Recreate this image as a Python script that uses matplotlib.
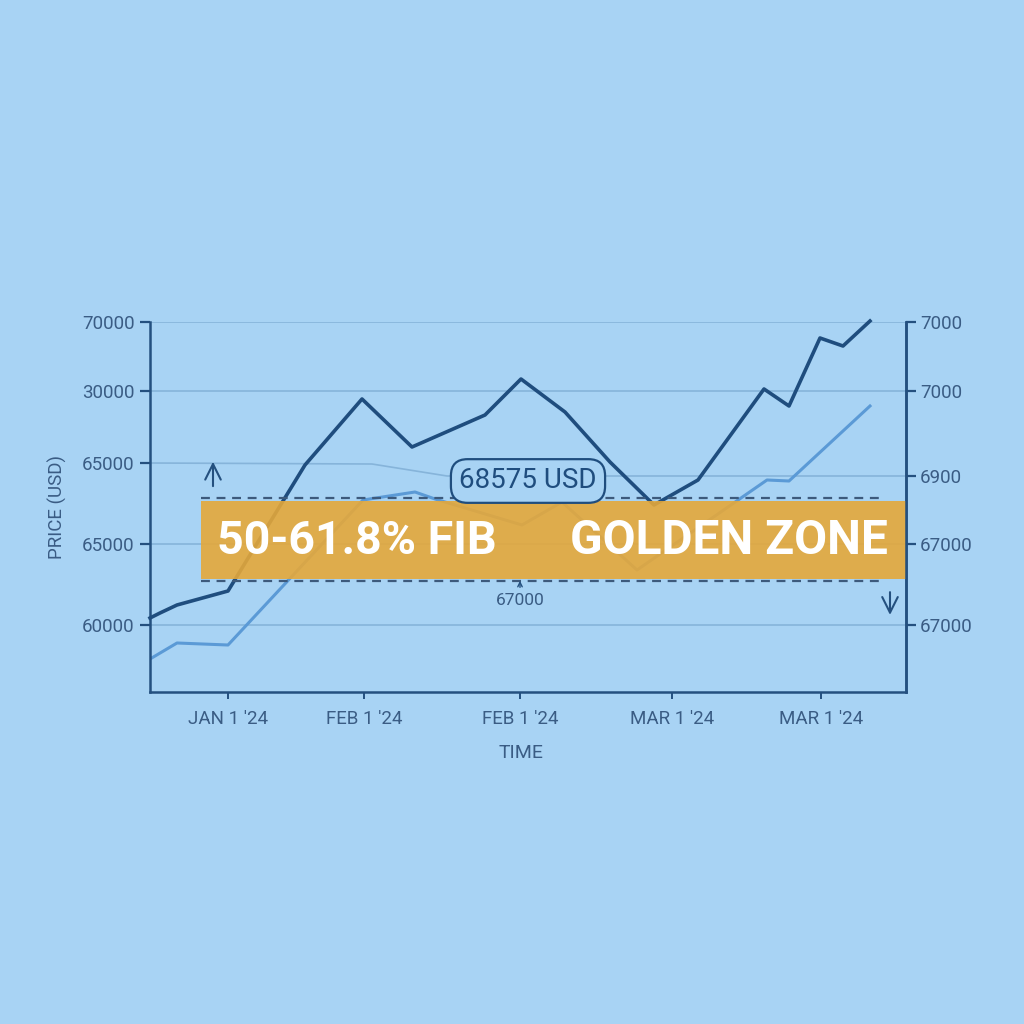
import matplotlib
matplotlib.use("Agg")
import matplotlib.pyplot as plt
from matplotlib.patches import Rectangle

plt.rcParams['font.family'] = ['Roboto', 'DejaVu Sans']

# days since mid-Dec '23, price in USD
dark_days = [0, 2, 5.4, 15.6, 31, 42.4, 52.4, 67, 74.2, 83, 92, 100.8, 109.6, 122.8, 127.8, 134, 138.6, 144]
dark_price = [60432, 60741, 61235, 62099, 69877, 73951, 70988, 72963, 75185, 73148, 70062,
              67407, 68951, 74568, 73519, 77716, 77222, 78765]

light_days = [0, 5.4, 15.6, 42.6, 53, 57, 74.4, 82.4, 97.4, 123.4, 127.8, 144]
light_price = [57901, 58889, 58765, 67716, 68210, 67778, 66173, 67593, 63395, 68951, 68889, 73519]

faint_days = [0, 44.4, 59.4, 151.2]
faint_price = [70000, 69938, 69198, 69198]

left_ticks = [78704, 74444, 70000, 65000, 60000]
left_labels = ['70000', '30000', '65000', '65000', '60000']
right_ticks = [78704, 74444, 69198, 65000, 60000]
right_labels = ['7000', '7000', '6900', '67000', '67000']
grid_levels = [78704, 74444, 65000, 60000]

x_ticks = [15.6, 42.8, 74, 104.4, 134.2]
x_labels = ["JAN 1 '24", "FEB 1 '24", "FEB 1 '24", "MAR 1 '24", "MAR 1 '24"]

zone_low, zone_high = 62840, 67654
zone_start, zone_end = 10.2, 151.2
fib_high, fib_low = 67840, 62716
price_tag = 68575

bg = '#a8d3f4'
dark = '#1f4d7e'
light = '#5b9ad6'
axis_col = '#24507f'
text_col = '#3a5c84'

fig = plt.figure(figsize=(10.24, 10.24), dpi=100, facecolor=bg)
ax = fig.add_axes([150/1024, 332/1024, 756/1024, 370/1024])
ax.set_facecolor(bg)
ax.set_xlim(0, 151.2)
ax.set_ylim(55864, 78704)

for g in grid_levels:
    ax.axhline(g, color='#86b4da', lw=1.2, zorder=1)
ax.plot(faint_days, faint_price, color='#86b4da', lw=1.2, zorder=1)

ax.plot(light_days, light_price, color=light, lw=2.2, zorder=2)
ax.plot(dark_days, dark_price, color=dark, lw=2.6, zorder=3, clip_on=False)

# golden zone band
ax.add_patch(Rectangle((zone_start, zone_low), zone_end - zone_start, zone_high - zone_low,
                       facecolor='#e5a83a', alpha=0.9, edgecolor='none', zorder=4, clip_on=False))
for lvl in (fib_high, fib_low):
    ax.plot([zone_start, 147], [lvl, lvl], color='#3d5a7c', lw=1.6, ls=(0, (4, 3)), zorder=5)

ax.text(13.4, 65185, '50-61.8% FIB', color='white', fontsize=33.5, fontweight='bold',
        ha='left', va='center', zorder=6)
ax.text(147.6, 65185, 'GOLDEN ZONE', color='white', fontsize=34.5, fontweight='bold',
        ha='right', va='center', zorder=6)

# arrows
ax.annotate('', xy=(12.6, 70250), xytext=(12.6, 68400),
            arrowprops=dict(arrowstyle='->', color=axis_col, lw=1.5, mutation_scale=28), zorder=6)
ax.annotate('', xy=(148, 60450), xytext=(148, 62200),
            arrowprops=dict(arrowstyle='->', color=axis_col, lw=1.5, mutation_scale=28), zorder=6,
            annotation_clip=False)
ax.annotate('', xy=(74, 62900), xytext=(74, 62150),
            arrowprops=dict(arrowstyle='->', color=axis_col, lw=1.0, mutation_scale=8), zorder=6)
ax.text(74, 61500, '67000', color=text_col, fontsize=12.5, ha='center', va='center', zorder=6)

ax.text(75.6, 68889, f'{price_tag} USD', color=dark, fontsize=20, ha='center', va='center', zorder=7,
        bbox=dict(boxstyle='round,pad=0.3,rounding_size=0.6', facecolor=bg, edgecolor=dark, lw=1.6))

# axes styling
ax.spines['top'].set_visible(False)
for s in ('left', 'right', 'bottom'):
    ax.spines[s].set_color(axis_col)
    ax.spines[s].set_linewidth(1.8)

ax.set_yticks(left_ticks)
ax.set_yticklabels(left_labels)
ax.set_xticks(x_ticks)
ax.set_xticklabels(x_labels)
ax.tick_params(axis='y', length=7, width=1.6, color=axis_col, labelcolor=text_col, labelsize=13.5, pad=4)
ax.tick_params(axis='x', length=5, width=1.4, color=axis_col, labelcolor=text_col, labelsize=13.5, pad=8)

ax2 = ax.twinx()
ax2.set_ylim(ax.get_ylim())
ax2.set_yticks(right_ticks)
ax2.set_yticklabels(right_labels)
ax2.tick_params(axis='y', length=7, width=1.6, color=axis_col, labelcolor=text_col, labelsize=13.5, pad=3)
ax2.spines['top'].set_visible(False)
ax2.spines['right'].set_color(axis_col)
ax2.spines['right'].set_linewidth(1.8)
ax2.spines['left'].set_visible(False)
ax2.spines['bottom'].set_visible(False)

ax.set_ylabel('PRICE (USD)', color=text_col, fontsize=13.5)
ax.yaxis.set_label_coords(-0.11, 0.5)
ax.set_xlabel('TIME', color=text_col, fontsize=14)
ax.xaxis.set_label_coords(0.491, -0.141)

fig.savefig('out.png', dpi=100, facecolor=bg)
